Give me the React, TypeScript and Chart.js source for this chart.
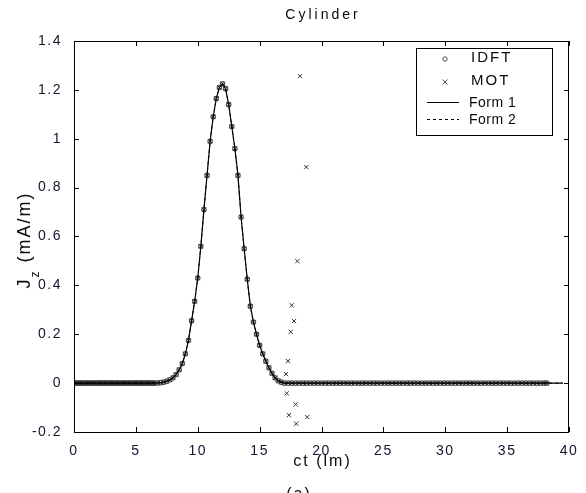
import React, { useEffect, useRef } from "react";
import { Chart, registerables } from "chart.js";
Chart.register(...registerables);

// ---- data ----
const xTickValues = [0, 5, 10, 15, 20, 25, 30, 35, 40];
const yTickValues = [-0.2, 0, 0.2, 0.4, 0.6, 0.8, 1, 1.2, 1.4];

// pulse (ct in lm, Jz in mA/m)
const curveCt = [6.5, 6.75, 7, 7.25, 7.5, 7.75, 8, 8.25, 8.5, 8.75, 9, 9.25, 9.5, 9.75, 10, 10.25, 10.5, 10.75, 11, 11.25, 11.5, 11.75, 12, 12.25, 12.5, 12.75, 13, 13.25, 13.5, 13.75, 14, 14.25, 14.5, 14.75, 15, 15.25, 15.5, 15.75, 16, 16.25, 16.5, 16.75, 17];
const curveJz = [0, 0.001, 0.002, 0.004, 0.008, 0.014, 0.022, 0.035, 0.055, 0.08, 0.12, 0.175, 0.255, 0.335, 0.43, 0.56, 0.71, 0.85, 0.99, 1.09, 1.165, 1.21, 1.225, 1.205, 1.14, 1.05, 0.96, 0.85, 0.68, 0.55, 0.425, 0.315, 0.25, 0.2, 0.155, 0.12, 0.09, 0.063, 0.04, 0.022, 0.01, 0.004, 0];

// line end points (flat parts)
const lineStartCt = 0;
const lineEndCt = 39.5;
const flatJz = 0;

// flat-region sample positions (markers)
const leftFlatCt = [0, 0.1, 0.2, 0.3, 0.4, 0.5, 0.6, 0.7, 0.8, 0.9, 1, 1.1, 1.2, 1.3, 1.4, 1.5, 1.6, 1.7, 1.8, 1.9, 2, 2.1, 2.2, 2.3, 2.4, 2.5, 2.6, 2.7, 2.8, 2.9, 3, 3.1, 3.2, 3.3, 3.4, 3.5, 3.6, 3.7, 3.8, 3.9, 4, 4.1, 4.2, 4.3, 4.4, 4.5, 4.6, 4.7, 4.8, 4.9, 5, 5.1, 5.2, 5.3, 5.4, 5.5, 5.6, 5.7, 5.8, 5.9, 6, 6.1, 6.2, 6.3, 6.4];
const rightFlatCt = [17.3, 17.6, 17.9, 18.2, 18.5, 18.8, 19.1, 19.4, 19.7, 20, 20.3, 20.6, 20.9, 21.2, 21.5, 21.8, 22.1, 22.4, 22.7, 23, 23.3, 23.6, 23.9, 24.2, 24.5, 24.8, 25.1, 25.4, 25.7, 26, 26.3, 26.6, 26.9, 27.2, 27.5, 27.8, 28.1, 28.4, 28.7, 29, 29.3, 29.6, 29.9, 30.2, 30.5, 30.8, 31.1, 31.4, 31.7, 32, 32.3, 32.6, 32.9, 33.2, 33.5, 33.8, 34.1, 34.4, 34.7, 35, 35.3, 35.6, 35.9, 36.2, 36.5, 36.8, 37.1, 37.4, 37.7, 38, 38.2];

// MOT late-time instability points
const motOutCt = [18.26, 18.77, 18.05, 17.59, 17.78, 17.51, 17.29, 17.13, 17.19, 17.91, 17.37, 18.85, 17.96];
const motOutJz = [1.256, 0.884, 0.499, 0.319, 0.254, 0.21, 0.09, 0.037, -0.042, -0.087, -0.131, -0.139, -0.166];

const seriesNames = ["IDFT", "MOT", "Form 1", "Form 2"];

const FONT = "Arial, 'Liberation Sans', sans-serif";

function buildCurve() {
  return curveCt.map((x, i) => ({ x, y: curveJz[i] }));
}
function buildFlat(list: number[]) {
  return list.map((x) => ({ x, y: flatJz }));
}

const framePlugin = {
  id: "matlabFrame",
  beforeDraw(chart: any) {
    chart.ctx.letterSpacing = "1.5px";
  },
  afterDraw(chart: any) {
    const ctx = chart.ctx as CanvasRenderingContext2D;
    const { left, right, top, bottom } = chart.chartArea;
    const xs = chart.scales.x;
    const ys = chart.scales.y;
    ctx.save();
    (ctx as any).letterSpacing = "0px";
    ctx.strokeStyle = "#000";
    ctx.lineWidth = 1;
    ctx.beginPath();
    ctx.rect(left + 0.5, top + 0.5, right - left - 1, bottom - top);
    ctx.stroke();
    const tl = 5;
    ctx.beginPath();
    xTickValues.forEach((v) => {
      const p = Math.round(xs.getPixelForValue(v)) + 0.5;
      ctx.moveTo(p, bottom);
      ctx.lineTo(p, bottom - tl);
      ctx.moveTo(p, top);
      ctx.lineTo(p, top + tl);
    });
    yTickValues.forEach((v) => {
      const p = Math.round(ys.getPixelForValue(v)) + 0.5;
      ctx.moveTo(left, p);
      ctx.lineTo(left + tl, p);
      ctx.moveTo(right, p);
      ctx.lineTo(right - tl, p);
    });
    ctx.stroke();

    // title
    ctx.fillStyle = "#0a0a0a";
    ctx.textBaseline = "middle";
    ctx.textAlign = "left";
    (ctx as any).letterSpacing = "3px";
    ctx.font = `14px ${FONT}`;
    let w = ctx.measureText("Cylinder").width - 3;
    ctx.fillText("Cylinder", (left + right) / 2 - w / 2, 15);

    // x title
    (ctx as any).letterSpacing = "2px";
    ctx.font = `16px ${FONT}`;
    w = ctx.measureText("ct (lm)").width - 2;
    ctx.fillText("ct (lm)", (left + right) / 2 - w / 2, 462);

    // "(a)" caption partially cut off
    (ctx as any).letterSpacing = "2px";
    ctx.font = `16px ${FONT}`;
    ctx.textBaseline = "top";
    w = ctx.measureText("(a)").width - 2;
    ctx.fillText("(a)", 298 - w / 2, 487);

    // y title: J_z (mA/m)
    ctx.save();
    ctx.translate(25, 240);
    ctx.rotate(-Math.PI / 2);
    ctx.textBaseline = "middle";
    (ctx as any).letterSpacing = "2px";
    ctx.font = `18px ${FONT}`;
    const wJ = ctx.measureText("J").width;
    const rest = " (mA/m)";
    const wR = ctx.measureText(rest).width;
    ctx.font = `12px ${FONT}`;
    const wZ = ctx.measureText("z").width;
    const total = wJ + wZ + wR;
    let cx = -total / 2;
    ctx.font = `18px ${FONT}`;
    ctx.fillText("J", cx, 0);
    cx += wJ;
    ctx.font = `12px ${FONT}`;
    ctx.fillText("z", cx, 11);
    cx += wZ;
    ctx.font = `18px ${FONT}`;
    ctx.fillText(rest, cx, 0);
    ctx.restore();

    // legend
    const bx = 416, by = 48, bw = 136, bh = 87;
    ctx.fillStyle = "#fff";
    ctx.fillRect(bx, by, bw, bh);
    ctx.strokeStyle = "#000";
    ctx.lineWidth = 1;
    ctx.strokeRect(bx + 0.5, by + 0.5, bw, bh);
    const mx = 445;
    // IDFT marker
    ctx.strokeStyle = "#555";
    ctx.beginPath();
    ctx.arc(mx, 59, 2.2, 0, Math.PI * 2);
    ctx.stroke();
    // MOT marker
    ctx.beginPath();
    ctx.moveTo(mx - 2.5, 79.5);
    ctx.lineTo(mx + 2.5, 84.5);
    ctx.moveTo(mx + 2.5, 79.5);
    ctx.lineTo(mx - 2.5, 84.5);
    ctx.stroke();
    // Form 1 line
    ctx.strokeStyle = "#000";
    ctx.beginPath();
    ctx.moveTo(427, 102.5);
    ctx.lineTo(459, 102.5);
    ctx.stroke();
    // Form 2 dashed
    ctx.setLineDash([3, 3]);
    ctx.beginPath();
    ctx.moveTo(427, 119.5);
    ctx.lineTo(459, 119.5);
    ctx.stroke();
    ctx.setLineDash([]);
    ctx.fillStyle = "#0a0a0a";
    ctx.textBaseline = "middle";
    ctx.textAlign = "left";
    (ctx as any).letterSpacing = "2px";
    ctx.font = `15px ${FONT}`;
    ctx.fillText(seriesNames[0], 471, 58);
    ctx.fillText(seriesNames[1], 471, 81);
    (ctx as any).letterSpacing = "0.5px";
    ctx.font = `14px ${FONT}`;
    ctx.fillText(seriesNames[2], 469, 103);
    ctx.fillText(seriesNames[3], 469, 120);
    ctx.restore();
  },
};

export default function App() {
  const ref = useRef<HTMLCanvasElement>(null);
  useEffect(() => {
    if (!ref.current) return;
    const curve = buildCurve();
    const line = [{ x: lineStartCt, y: flatJz }, ...curve, { x: lineEndCt, y: flatJz }];
    const markers = [...buildFlat(leftFlatCt), ...curve, ...buildFlat(rightFlatCt)];
    const motOut = motOutCt.map((x, i) => ({ x, y: motOutJz[i] }));
    const chart = new Chart(ref.current, {
      type: "scatter",
      data: {
        datasets: [
          {
            label: seriesNames[2],
            data: line,
            showLine: true,
            borderColor: "#000",
            borderWidth: 1.2,
            pointRadius: 0,
            order: 0,
          },
          {
            label: seriesNames[3],
            data: line,
            showLine: true,
            borderColor: "#000",
            borderWidth: 1,
            borderDash: [3, 3],
            pointRadius: 0,
            order: 1,
          },
          {
            label: seriesNames[1],
            data: [...markers, ...motOut],
            pointStyle: "crossRot",
            pointRadius: 3,
            borderColor: "#333",
            borderWidth: 1,
            backgroundColor: "transparent",
            order: 2,
          },
          {
            label: seriesNames[0],
            data: markers,
            pointStyle: "circle",
            pointRadius: 2.2,
            borderColor: "#555",
            borderWidth: 1.2,
            backgroundColor: "transparent",
            order: 3,
          },
        ],
      } as any,
      options: {
        responsive: false,
        animation: false,
        layout: { padding: { top: 41, right: 17, left: 0, bottom: 0 } },
        plugins: { legend: { display: false }, tooltip: { enabled: false }, title: { display: false } },
        scales: {
          x: {
            type: "linear",
            min: 0,
            max: 40,
            grid: { display: false },
            border: { display: false },
            ticks: {
              stepSize: 5,
              color: "#14142e",
              font: { family: FONT, size: 14 },
              padding: 3,
              maxRotation: 0,
            },
            afterFit: (s: any) => {
              s.height = 61;
            },
          },
          y: {
            type: "linear",
            min: -0.2,
            max: 1.4,
            grid: { display: false },
            border: { display: false },
            ticks: {
              stepSize: 0.2,
              color: "#14142e",
              font: { family: FONT, size: 14 },
              padding: 4,
              callback: (v: any) => String(Math.round(Number(v) * 10) / 10),
            },
            afterFit: (s: any) => {
              s.width = 74;
            },
          },
        },
      },
      plugins: [framePlugin],
    });
    return () => chart.destroy();
  }, []);
  return (
    <div style={{ position: "absolute", left: 0, top: 0, width: 586, height: 493, background: "#fff" }}>
      <canvas ref={ref} width={586} height={493} style={{ display: "block" }} />
    </div>
  );
}
